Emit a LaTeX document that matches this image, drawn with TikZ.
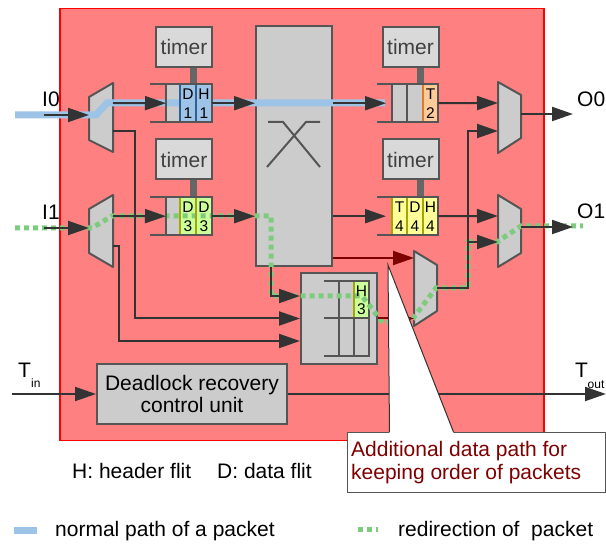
\documentclass[tikz,border=0pt]{standalone}
\usepackage{fontspec}
\setmainfont{Liberation Sans}
\usetikzlibrary{arrows.meta}

\definecolor{routerred}{HTML}{FF8080}
\definecolor{framered}{HTML}{FF0000}
\definecolor{ink}{HTML}{333333}
\definecolor{edgegray}{HTML}{555555}
\definecolor{unitgray}{HTML}{CCCCCC}
\definecolor{timergray}{HTML}{D9D9D9}
\definecolor{timertext}{HTML}{404040}
\definecolor{bargray}{HTML}{666666}
\definecolor{flitblue}{HTML}{9DC3E6}
\definecolor{blueedge}{HTML}{2F5F95}
\definecolor{flitgreen}{HTML}{CCFF99}
\definecolor{flityellow}{HTML}{FFFF99}
\definecolor{oliveedge}{HTML}{A6A600}
\definecolor{flitorange}{HTML}{FFCC99}
\definecolor{orangeedge}{HTML}{E6782A}
\definecolor{pathblue}{HTML}{9DC3E6}
\definecolor{pathgreen}{HTML}{7DCC7D}
\definecolor{darkred}{HTML}{7F0000}

\newcommand\diagfont{\fontsize{21}{22}\selectfont}
\newcommand\flitfont{\fontsize{15.5}{18}\selectfont}
\newcommand\subfont{\fontsize{12}{14}\selectfont}
% two stacked characters inside one flit slot
\newcommand\flitchars[5]{%
  \node[flitlbl] (#1-a) at (#2,{#3+16}) {#4};
  \node[flitlbl] (#1-b) at (#2,{#3+35}) {#5};}

\tikzset{
  conn/.style={draw=ink, line width=2pt, -{Triangle[length=21pt,width=14pt]}},
  redconn/.style={draw=darkred, line width=2pt, -{Triangle[length=21pt,width=14pt]}},
  unit/.style={draw=edgegray, line width=2pt, fill=unitgray, inner sep=0pt},
  timerbox/.style={draw=edgegray, line width=2pt, fill=timergray, inner sep=0pt,
    minimum width=56pt, minimum height=40pt, text=timertext, font=\diagfont},
  tbar/.style={draw=bargray, line width=7pt},
  muxshape/.style={draw=edgegray, line width=2pt, fill=unitgray, line join=round},
  bufline/.style={draw=edgegray, line width=2pt},
  xline/.style={draw=edgegray, line width=2pt},
  blueline/.style={draw=pathblue, line width=7pt},
  greenline/.style={draw=pathgreen, line width=5pt, dash pattern=on 5pt off 4pt},
  lbl/.style={inner sep=0pt, font=\diagfont, anchor=base west},
  flitlbl/.style={inner sep=0pt, font=\flitfont, anchor=base},
  slot/.style={inner sep=0pt, anchor=north west},
}

\begin{document}
\begin{tikzpicture}[x=1pt,y=-1pt]
\useasboundingbox (0,0) rectangle (606,545);

% router frame
\node[draw=framered, fill=routerred, line width=1.5pt, minimum width=484pt,
      minimum height=432pt, inner sep=0pt, anchor=north west] (router) at (59,8) {};

% timers and their links to the buffers
\node[timerbox] (tmA) at (184,47) {timer};
\node[timerbox] (tmB) at (184,159.5) {timer};
\node[timerbox] (tmC) at (410.5,47) {timer};
\node[timerbox] (tmD) at (410.5,159.5) {timer};
\draw[tbar] ([xshift=9pt]tmA.south) -- ++(0,17);
\draw[tbar] ([xshift=9pt]tmB.south) -- ++(0,17.5);
\draw[tbar] ([xshift=9.5pt]tmC.south) -- ++(0,17);
\draw[tbar] ([xshift=9.5pt]tmD.south) -- ++(0,17.5);

% crossbar
\node[unit, minimum width=76pt, minimum height=240pt] (xbar) at (294,146) {};
\draw[xline] (268,122) -- (283,122) -- (320,167);
\draw[xline] (320,122) -- (306,122) -- (267,167);

% reorder block and deadlock recovery unit
\node[unit, minimum width=76pt, minimum height=91pt] (merge) at (339,318.5) {};
\node[unit, minimum width=190pt, minimum height=60pt, align=center, font=\diagfont]
     (dru) at (192,394) {Deadlock recovery\\control unit};

% input demultiplexers
\draw[muxshape] (89,97) -- (113,83) -- (113,152) -- (89,140) -- cycle;
\coordinate (muxIAin) at (89,115);
\coordinate (muxIAout) at (113,103);
\coordinate (muxIAout2) at (113,131);
\draw[muxshape] (89,209) -- (113,195) -- (113,267) -- (89,253) -- cycle;
\coordinate (muxIBin) at (89,228);
\coordinate (muxIBout) at (113,216);
\coordinate (muxIBout2) at (113,246);
% output multiplexers
\draw[muxshape] (498,82) -- (521,95) -- (521,138) -- (498,153) -- cycle;
\coordinate (muxOAin1) at (498,103);
\coordinate (muxOAin2) at (498,131);
\coordinate (muxOAout) at (521,114);
\draw[muxshape] (498,195) -- (521,209) -- (521,253) -- (498,267) -- cycle;
\coordinate (muxOBin1) at (498,216);
\coordinate (muxOBin2) at (498,242);
\coordinate (muxOBout) at (521,227);
% multiplexer of the additional data path
\draw[muxshape] (414,251) -- (437,265) -- (437,311) -- (414,326) -- cycle;
\coordinate (muxSin1) at (414,258);
\coordinate (muxSin2) at (414,318.5);
\coordinate (muxSout) at (437,288);

% buffer slots
\node[slot, minimum width=46pt, minimum height=38pt] (bufA) at (166,84) {};
\node[slot, minimum width=46pt, minimum height=38pt] (bufB) at (166,197) {};
\node[slot, minimum width=46pt, minimum height=38pt] (obufA) at (392,84) {};
\node[slot, minimum width=46pt, minimum height=38pt] (obufB) at (392,197) {};
\node[slot, minimum width=15pt, minimum height=37pt] (hslot) at (354,281) {};
\fill[unitgray] (166,84) rectangle (180,122);
\fill[flitblue] (180,84) rectangle (212,122);
\fill[unitgray] (166,197) rectangle (180,235);
\fill[flitgreen] (180,197) rectangle (212,235);
\fill[unitgray] (392,84) rectangle (423,122);
\fill[flitorange] (423,84) rectangle (438,122);
\fill[flityellow] (392,197) rectangle (438,235);
\fill[flitgreen] (354,281) rectangle (369,318);
% reorder buffers
\draw[bufline] (324,281) -- (369,281) -- (369,356) -- (324,356);
\draw[bufline] (324,318) -- (369,318);
\draw[bufline] (339,281) -- (339,356);
\draw[bufline] (354,318) -- (354,356);

% packet paths
\draw[blueline] (15,115) -- (96,115) -- (107,103) -- (385,103);
\draw[greenline] (15,228) -- (92,228) -- (112,216) -- (271,216) -- (271,296)
  -- (362,296) -- (383,323) -- (411,321) -- (436,288) -- (468,288) -- (468,242)
  -- (497,242) -- (521,226) -- (583,226);

% buffer outlines
\draw[bufline] (150,84) -- (212,84) -- (212,122) -- (150,122);
\draw[bufline] (166,84) -- (166,122);
\draw[draw=blueedge, line width=2pt] (180,85) -- (180,121) (196,85) -- (196,121);
\draw[bufline] (150,197) -- (212,197) -- (212,235) -- (150,235);
\draw[bufline] (166,197) -- (166,235);
\draw[draw=oliveedge, line width=2pt] (180,198) -- (180,234) (196,198) -- (196,234);
\draw[bufline] (377,84) -- (438,84) -- (438,122) -- (377,122);
\draw[bufline] (392,84) -- (392,122) (407,84) -- (407,122);
\draw[draw=orangeedge, line width=2pt] (423,85) -- (423,121);
\draw[bufline] (377,197) -- (438,197) -- (438,235) -- (377,235);
\draw[draw=oliveedge, line width=2pt] (392,198) -- (392,234) (407,198) -- (407,234) (423,198) -- (423,234);
\draw[draw=oliveedge, line width=2pt] (354,282) -- (354,317);

% flit contents
\flitchars{fa}{188}{84}{D}{1}
\flitchars{fb}{204}{84}{H}{1}
\flitchars{fc}{188}{197}{D}{3}
\flitchars{fd}{204}{197}{D}{3}
\flitchars{fe}{430.5}{84}{T}{2}
\flitchars{ff}{399.5}{197}{T}{4}
\flitchars{fg}{415}{197}{D}{4}
\flitchars{fh}{430.5}{197}{H}{4}
\node[flitlbl] (fi-a) at (361.5,297) {H};
\node[flitlbl] (fi-b) at (361.5,315) {3};

% connectors
\coordinate (I0end) at (44,115);
\coordinate (I1end) at (44,228);
\coordinate (O0end) at (573,114);
\coordinate (O1end) at (573,227);
\coordinate (Tinend) at (12,394);
\coordinate (Toutend) at (606,394);
\coordinate (split) at (468,242);
\draw[conn] (I0end) -- (muxIAin);
\draw[conn] (muxIAout) -- (bufA.west);
\draw[conn] (bufA.east) -- (bufA.east -| xbar.west);
\draw[conn] (xbar.east |- obufA.west) -- ([xshift=-6pt]obufA.west);
\draw[conn] (obufA.east) -- (muxOAin1);
\draw[conn] (muxOAout) -- (O0end);
\draw[conn] (I1end) -- (muxIBin);
\draw[conn] (muxIBout) -- (bufB.west);
\draw[conn] (bufB.east) -- (bufB.east -| xbar.west);
\draw[conn] (xbar.east |- obufB.west) -- ([xshift=-6pt]obufB.west);
\draw[conn] (obufB.east) -- (muxOBin1);
\draw[conn] (muxOBout) -- (O1end);
\draw[conn] (muxIAout2) -| (135,318.5) -- (merge.west);
\draw[conn] (muxIBout2) -| (119,341) -- (merge.west |- 0,341);
\draw[conn] (xbar.south -| 271,0) |- (merge.west |- 0,296);
\draw[redconn] (xbar.east |- muxSin1) -- (muxSin1);
\draw[redconn] (merge.east) -- (muxSin2);
\draw[conn] (muxSout) -| (muxOAin2 -| split) -- (muxOAin2);
\draw[conn] (split) -- (muxOBin2);
\draw[conn] (Tinend) -- (dru.west);
\draw[conn] (dru.east) -- (Toutend);

% port labels
\node[lbl] (lI0) at (42,107) {I0};
\node[lbl] (lI1) at (42,220) {I1};
\node[lbl] (lO0) at (577,107) {O0};
\node[lbl] (lO1) at (577,219) {O1};
\node[lbl] (lTin) at (18,378) {T};
\node[inner sep=0pt, font=\subfont, anchor=base west] (lTinsub) at (31,388) {in};
\node[lbl] (lTout) at (575,378) {T};
\node[inner sep=0pt, font=\subfont, anchor=base west] (lToutsub) at (587.5,389) {out};

% flit key and legend
\node[lbl] (keyH) at (72,479) {H: header flit};
\node[lbl] (keyD) at (217,479) {D: data flit};
\draw[blueline] (14,530.5) -- (37,530.5);
\node[lbl] (legA) at (55,537) {normal path of a packet};
\draw[greenline] (358,530) -- (378,530);
\node[lbl] (legB) at (398,537) {redirection of\ \ packet};

% callout
\node[draw=edgegray, fill=white, line width=1pt, minimum width=258pt, minimum height=60pt,
      inner sep=0pt, anchor=north west] (note) at (347,432) {};
\fill[white] (389.5,433) -- (388,265) -- (453.5,433) -- cycle;
\draw[draw=ink, line width=1pt] (389.5,432) -- (388,265) -- (453.5,432);
\node[lbl, text=darkred] (noteA) at (351,457) {Additional data path for};
\node[lbl, text=darkred] (noteB) at (351,480) {keeping order of packets};
\end{tikzpicture}
\end{document}
